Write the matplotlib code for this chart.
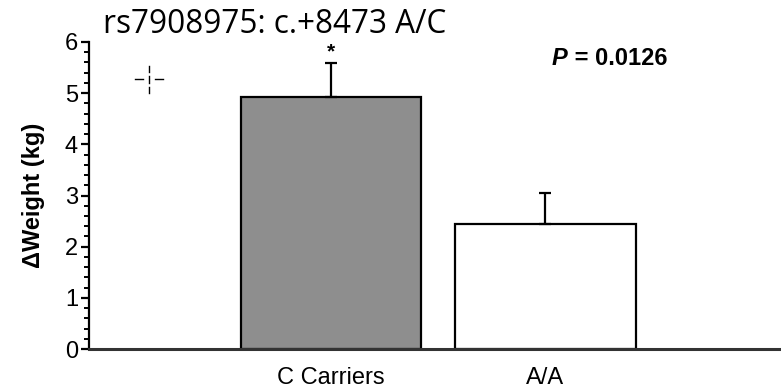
import numpy as np
import matplotlib
matplotlib.use("Agg")
import matplotlib.pyplot as plt
import matplotlib.ticker as ticker
from matplotlib.lines import Line2D

# Weight change by genotype group
groups = ["C Carriers", "A/A"]
weight_change = [4.92, 2.45]
weight_sem = [0.67, 0.60]
bar_colors = ["#8e8e8e", "white"]
p_label = "0.0126"
title = "rs7908975: c.+8473 A/C"

plt.rcParams["font.family"] = ["Liberation Sans", "DejaVu Sans"]

W, H = 781, 388
fig = plt.figure(figsize=(W / 100, H / 100), dpi=100)
# axes box in pixels: left 89, right edge, y=0 at 349, y=6 at 42
ax = fig.add_axes([89 / W, 1 - 349 / H, 1 - 89 / W, (349 - 42) / H])

x = np.arange(len(groups))
ax.bar(x, weight_change, width=0.84, color=bar_colors, edgecolor="black",
       linewidth=1.6, zorder=2)
ax.errorbar(x, weight_change, yerr=[np.zeros(len(x)), weight_sem], fmt="none",
            ecolor="black", elinewidth=1.6, capsize=4.5, capthick=1.6, zorder=3)

# significance star above the carriers bar
ax.annotate("*", xy=(x[0], weight_change[0] + weight_sem[0]), xytext=(0, 1),
            textcoords="offset points", ha="center", va="bottom",
            fontsize=15, fontweight="bold")

xmin, xmax = -1.128, 2.098
ax.set_xlim(xmin, xmax)
ax.set_ylim(0, 6)
ax.set_xticks(x)
ax.set_xticklabels(groups, fontsize=17)
ax.tick_params(axis="x", length=0, pad=13)
ax.yaxis.set_major_locator(ticker.MultipleLocator(1))
ax.yaxis.set_minor_locator(ticker.MultipleLocator(0.2))
ax.tick_params(axis="y", which="major", length=6, width=1.6, labelsize=17, pad=2)
ax.tick_params(axis="y", which="minor", length=3.5, width=1.4)

for side in ["top", "right"]:
    ax.spines[side].set_visible(False)
ax.spines["left"].set_linewidth(1.6)
ax.spines["bottom"].set_linewidth(2.2)
ax.spines["bottom"].set_color("#333333")

ax.set_ylabel("\u0394Weight (kg)", fontsize=17, fontweight="bold", labelpad=14)

# P value, italic P followed by the number
pt = ax.text(xmin + 0.669 * (xmax - xmin), 5.55, "P", fontsize=17,
             fontweight="bold", style="italic")
ax.annotate(" = " + p_label, xy=(1, 0), xycoords=pt, va="bottom",
            fontsize=17, fontweight="bold")

fig.text(103 / W, 1 - 33 / H, title, fontsize=22.7, family="Open Sans",
         va="baseline", ha="left")

# small dashed crosshair near the top left
cx = np.array([135, 143, np.nan, 155, 163]) / W
cy = np.full(5, 1 - 79 / H)
fig.add_artist(Line2D(cx, cy, transform=fig.transFigure, color="black", lw=1))
vy = 1 - np.array([66, 72, np.nan, 76, 83, np.nan, 87, 93]) / H
vx = np.full(8, 149 / W)
fig.add_artist(Line2D(vx, vy, transform=fig.transFigure, color="black", lw=1))

fig.savefig("out.png", dpi=100)
